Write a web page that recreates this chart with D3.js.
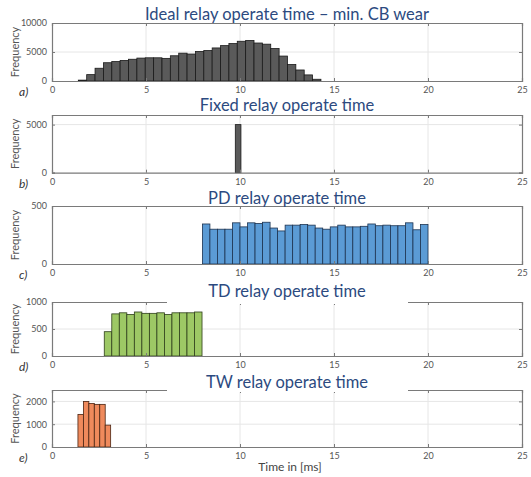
<!DOCTYPE html>
<html><head><meta charset="utf-8">
<script src="https://cdn.jsdelivr.net/npm/d3@7"></script>
<style>body{margin:0;background:#fff}svg{display:block}</style></head>
<body><svg id="c" width="531" height="477"></svg>
<script>
// ---- data ----
const xTicks = [0, 5, 10, 15, 20, 25];
const xDomain = [0, 25];
const titles = ["Ideal relay operate time \u2013 min. CB wear", "Fixed relay operate time", "PD relay operate time", "TD relay operate time", "TW relay operate time"];
const letters = ["a)", "b)", "c)", "d)", "e)"];
const yMax = [10000, 6000, 500, 1000, 2500];
const yTicks = [[0, 5000, 10000], [0, 5000], [0, 500], [0, 500, 1000], [0, 1000, 2000]];
const binStart = [1.4, 9.75, 8, 2.78, 1.38];
const binWidth = [0.445, 0.3, 0.4, 0.4, 0.29];
const idealCounts = [150, 1100, 2200, 3150, 3350, 3550, 3750, 3950, 4000, 4000, 3900, 4350, 4800, 4650, 5100, 5250, 5700, 6100, 6450, 6850, 7000, 6550, 6350, 5600, 4300, 2850, 1900, 1050, 300];
const fixedCounts = [5000];
const pdCounts = [345, 300, 300, 300, 355, 320, 355, 350, 360, 310, 285, 335, 335, 340, 335, 310, 300, 320, 335, 320, 320, 325, 345, 330, 335, 330, 330, 355, 295, 340];
const tdCounts = [450, 780, 800, 770, 815, 790, 790, 800, 770, 800, 800, 800, 815];
const twCounts = [1430, 2000, 1910, 1870, 1870, 960];
const xLabel = "Time in [ms]";
const yLabel = "Frequency";

// ---- layout / style ----
const counts = [idealCounts, fixedCounts, pdCounts, tdCounts, twCounts];
const tops = [23, 115, 206, 302, 390];
const bottoms = [81, 172.7, 264, 356, 447];
const titleY = [14, 105, 198, 291, 382];
const fills = ["#5a5a5a", "#5a5a5a", "#5b9bd5", "#9dc865", "#ef8a5c"];
const strokes = ["#1a1a1a", "#1a1a1a", "#1d3350", "#2f3f1c", "#4a2412"];
const titleMask = [false, false, false, true, true];
const left = 52, right = 522;
const font = "Lato, 'Open Sans', sans-serif";

const svg = d3.select("#c");
const x = d3.scaleLinear().domain(xDomain).range([left, right]);

counts.forEach((cnt, i) => {
  const y = d3.scaleLinear().domain([0, yMax[i]]).range([bottoms[i], tops[i]]);
  const g = svg.append("g");
  const bins = cnt.map((c, k) => ({x0: binStart[i] + k * binWidth[i], x1: binStart[i] + (k + 1) * binWidth[i], c}));

  // grid
  g.selectAll(".gx").data(xTicks.slice(1, -1)).join("line")
    .attr("x1", d => x(d)).attr("x2", d => x(d)).attr("y1", tops[i]).attr("y2", bottoms[i])
    .attr("stroke", "#e6e6e6").attr("stroke-width", 1);
  g.selectAll(".gy").data(yTicks[i].filter(t => t > 0 && t < yMax[i])).join("line")
    .attr("x1", left).attr("x2", right).attr("y1", d => y(d)).attr("y2", d => y(d))
    .attr("stroke", "#e6e6e6").attr("stroke-width", 1);

  // bars
  g.selectAll("rect.bar").data(bins).join("rect").attr("class", "bar")
    .attr("x", d => x(d.x0)).attr("width", d => x(d.x1) - x(d.x0))
    .attr("y", d => y(d.c)).attr("height", d => y(0) - y(d.c))
    .attr("fill", fills[i]).attr("stroke", strokes[i]).attr("stroke-width", 0.8);

  // axes
  const ax = d3.axisBottom(x).tickValues(xTicks).tickSize(-3).tickPadding(6).tickFormat(d3.format("d"));
  const axT = d3.axisTop(x).tickValues(xTicks).tickSize(-3).tickFormat("");
  const ay = d3.axisLeft(y).tickValues(yTicks[i]).tickSize(-3).tickPadding(5).tickFormat(d3.format("d"));
  const ayR = d3.axisRight(y).tickValues(yTicks[i]).tickSize(-3).tickFormat("");
  g.append("g").attr("transform", `translate(0,${bottoms[i]})`).call(ax);
  g.append("g").attr("transform", `translate(0,${tops[i]})`).call(axT);
  g.append("g").attr("transform", `translate(${left},0)`).call(ay);
  g.append("g").attr("transform", `translate(${right},0)`).call(ayR);
  g.selectAll(".domain").attr("stroke", "#7a7a7a").attr("stroke-width", 1.2);
  g.selectAll(".tick line").attr("stroke", "#7a7a7a");
  g.selectAll(".tick text").attr("fill", "#555").style("font-family", font).style("font-size", "9px");

  // y label
  g.append("text").attr("transform", `translate(14,${(tops[i] + bottoms[i]) / 2}) rotate(-90)`)
    .attr("text-anchor", "middle").attr("dominant-baseline", "central")
    .style("font-family", font).style("font-size", "11px").attr("fill", "#555").text(yLabel);
  // panel letter
  g.append("text").attr("x", 19).attr("y", bottoms[i] + 15)
    .style("font-family", font).style("font-size", "12px").style("font-style", "italic")
    .attr("fill", "#333").text(letters[i]);

  // title
  if (titleMask[i]) {
    g.append("rect").attr("x", 167).attr("width", 241).attr("y", tops[i] - 14).attr("height", 16).attr("fill", "#fff");
  }
  g.append("text").attr("x", (left + right) / 2).attr("y", titleY[i])
    .attr("text-anchor", "middle").attr("dominant-baseline", "central")
    .style("font-family", font).style("font-size", "16.5px").attr("fill", "#2c4a80").text(titles[i]);
});

svg.append("text").attr("x", (left + right) / 2 + 3).attr("y", 466)
  .attr("text-anchor", "middle").attr("dominant-baseline", "central")
  .style("font-family", font).style("font-size", "12px").attr("fill", "#444").text(xLabel);
</script></body></html>
